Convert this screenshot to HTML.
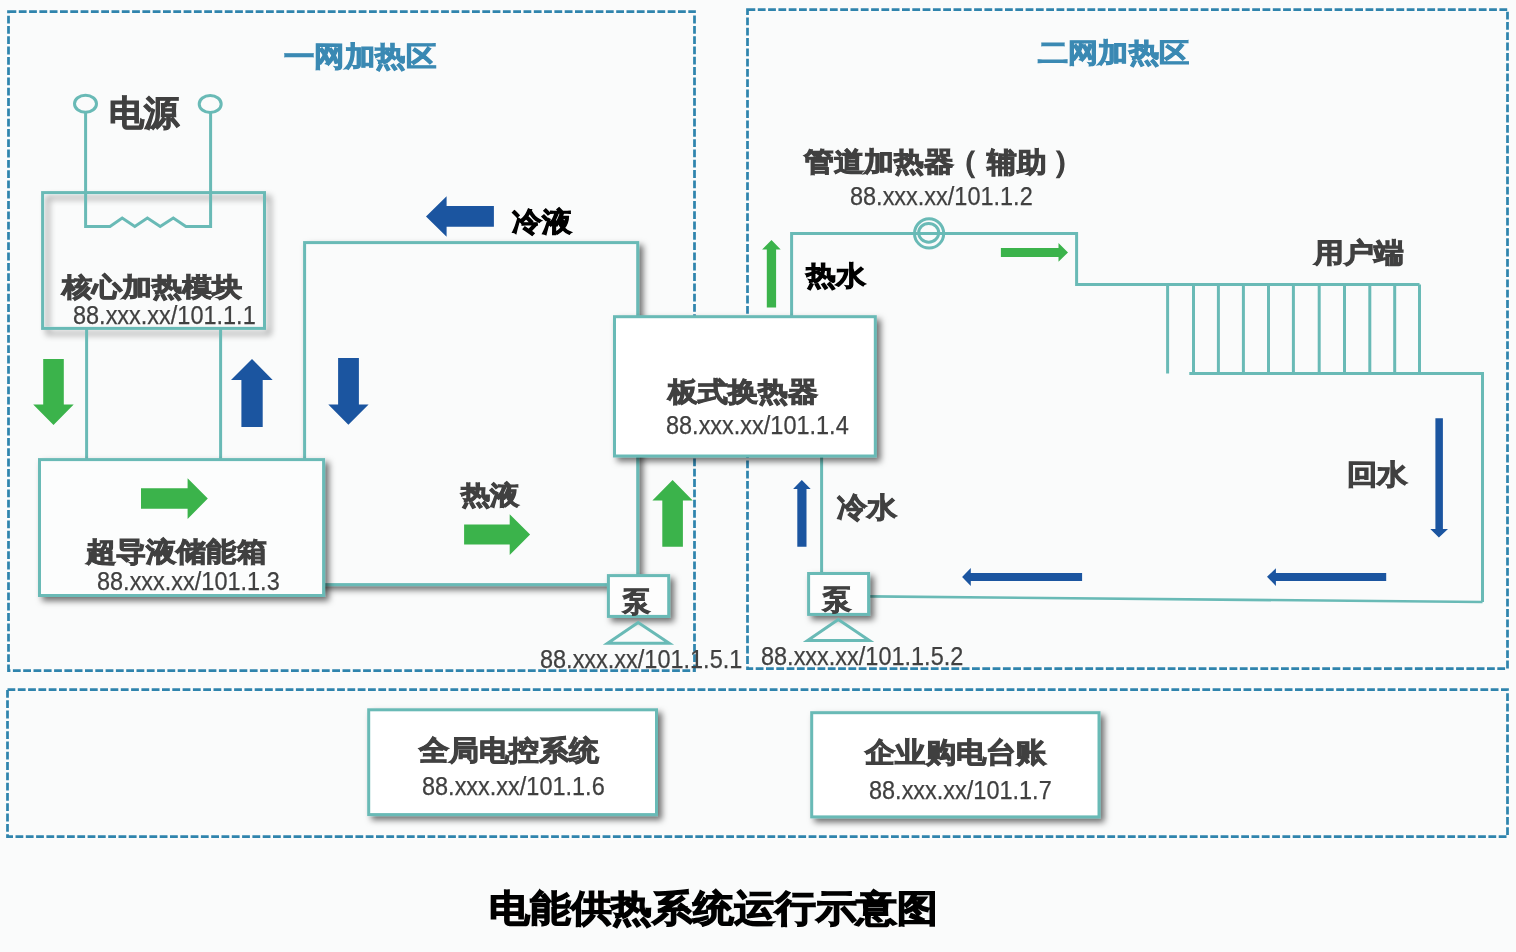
<!DOCTYPE html><html><head><meta charset="utf-8"><title>电能供热系统运行示意图</title><style>
html,body{margin:0;padding:0;background:#fafbfb;}
#c{position:relative;width:1516px;height:952px;overflow:hidden;background:#fafbfb;}
svg{position:absolute;left:0;top:0;}
.t{position:absolute;white-space:nowrap;line-height:1;font-family:"Liberation Sans",sans-serif;transform-origin:0 0;}
.b{font-weight:bold;}
</style></head><body><div id="c">
<svg width="1516" height="952" viewBox="0 0 1516 952"><defs><filter id="sh" x="-50%" y="-50%" width="200%" height="200%">
<feGaussianBlur in="SourceAlpha" stdDeviation="3.3"/>
<feOffset dx="4" dy="4" result="b"/>
<feFlood flood-color="#000" flood-opacity="0.55"/>
<feComposite in2="b" operator="in"/>
<feMerge><feMergeNode/><feMergeNode in="SourceGraphic"/></feMerge>
</filter><filter id="sh2" x="-50%" y="-50%" width="200%" height="200%">
<feGaussianBlur in="SourceAlpha" stdDeviation="3.2"/>
<feOffset dx="5" dy="5" result="b"/>
<feFlood flood-color="#000" flood-opacity="0.42"/>
<feComposite in2="b" operator="in"/>
<feMerge><feMergeNode/><feMergeNode in="SourceGraphic"/></feMerge>
</filter></defs><rect x="8.5" y="11.5" width="686" height="659" fill="none" stroke="#2f84ad" stroke-width="2.75" stroke-dasharray="7.8 2.5"/><rect x="747.5" y="9.5" width="760" height="659" fill="none" stroke="#2f84ad" stroke-width="2.75" stroke-dasharray="7.8 2.5"/><rect x="7.5" y="689.5" width="1500" height="147" fill="none" stroke="#2f84ad" stroke-width="2.75" stroke-dasharray="7.8 2.5"/><rect x="42.6" y="192.6" width="221.9" height="135.8" fill="none" stroke="#69bab6" stroke-width="3" filter="url(#sh2)"/><g fill="none" stroke="#69bab6" stroke-width="3"><ellipse cx="85.5" cy="103.8" rx="11" ry="8.5"/><ellipse cx="210.2" cy="104" rx="11" ry="8.5"/><polyline points="85.6,112.3 85.6,226.4 110,226.4 122.2,218 134.8,226.4 147.4,218 160.2,226.4 173.3,218 185.9,226.4 210.6,226.4 210.6,112.5"/></g><g stroke="#69bab6" stroke-width="3"><line x1="86.6" y1="328.4" x2="86.6" y2="459.6"/><line x1="220.6" y1="328.4" x2="220.6" y2="459.6"/></g><rect x="304.6" y="242.6" width="333.1" height="342" fill="#fafbfb" stroke="#69bab6" stroke-width="3" filter="url(#sh)"/><rect x="39.5" y="459.6" width="284.1" height="135.9" fill="#fcfdfd" stroke="#69bab6" stroke-width="3" filter="url(#sh)"/><g fill="none" stroke="#69bab6" stroke-width="3"><polyline points="791.6,316.7 791.6,233.6 1076.6,233.6 1076.6,284.5 1419.5,284.5"/><line x1="1167.6" y1="284.5" x2="1167.6" y2="373.5"/><line x1="1193.5" y1="284.5" x2="1193.5" y2="373.5"/><line x1="1218.4" y1="284.5" x2="1218.4" y2="373.5"/><line x1="1243.4" y1="284.5" x2="1243.4" y2="373.5"/><line x1="1268.5" y1="284.5" x2="1268.5" y2="373.5"/><line x1="1293.4" y1="284.5" x2="1293.4" y2="373.5"/><line x1="1319.2" y1="284.5" x2="1319.2" y2="373.5"/><line x1="1344.5" y1="284.5" x2="1344.5" y2="373.5"/><line x1="1369.8" y1="284.5" x2="1369.8" y2="373.5"/><line x1="1394.7" y1="284.5" x2="1394.7" y2="373.5"/><line x1="1419.5" y1="284.5" x2="1419.5" y2="373.5"/><polyline points="1189.3,373.5 1482.5,373.5 1482.5,602"/><line x1="1482.5" y1="602" x2="868.6" y2="596.4" stroke-width="2.6"/><line x1="821.6" y1="456" x2="821.6" y2="573.5"/><circle cx="929.1" cy="233.4" r="14.6"/><ellipse cx="928.7" cy="232.8" rx="10" ry="9.4"/></g><rect x="614.5" y="316.7" width="260.8" height="139.3" fill="#ffffff" stroke="#69bab6" stroke-width="3" filter="url(#sh)"/><rect x="608.4" y="575.6" width="60.3" height="40.8" fill="#fdfdfd" stroke="#69bab6" stroke-width="3" filter="url(#sh)"/><rect x="808.6" y="573.5" width="60" height="40.9" fill="#fdfdfd" stroke="#69bab6" stroke-width="3" filter="url(#sh)"/><polygon points="638.2,622.6 607.6,643.3 669.2,643.3" fill="none" stroke="#69bab6" stroke-width="3"/><polygon points="838.3,619.6 807.6,640.6 869.4,640.6" fill="none" stroke="#69bab6" stroke-width="3"/><rect x="368.7" y="709.8" width="287.8" height="104.8" fill="#ffffff" stroke="#69bab6" stroke-width="3" filter="url(#sh)"/><rect x="811.7" y="712.7" width="287.3" height="104.2" fill="#ffffff" stroke="#69bab6" stroke-width="3" filter="url(#sh)"/><polygon points="43.2,359.0 63.8,359.0 63.8,404.4 73.7,404.4 53.5,425.0 33.2,404.4 43.2,404.4" fill="#3bb34b"/><polygon points="241.4,427.0 262.7,427.0 262.7,380.0 272.7,380.0 252.0,359.0 231.0,380.0 241.4,380.0" fill="#1b55a0"/><polygon points="338.1,358.1 358.9,358.1 358.9,404.4 368.6,404.4 348.4,424.8 328.3,404.4 338.1,404.4" fill="#1b55a0"/><polygon points="141.0,488.2 187.6,488.2 187.6,478.3 207.8,498.6 187.6,518.9 187.6,508.7 141.0,508.7" fill="#3bb34b"/><polygon points="493.9,206.1 446.6,206.1 446.6,196.3 426.0,216.5 446.6,236.7 446.6,226.8 493.9,226.8" fill="#1b55a0"/><polygon points="464.1,524.5 509.7,524.5 509.7,514.2 530.1,534.5 509.7,554.9 509.7,544.6 464.1,544.6" fill="#3bb34b"/><polygon points="662.3,546.8 682.9,546.8 682.9,500.5 692.7,500.5 672.6,479.9 652.4,500.5 662.3,500.5" fill="#3bb34b"/><polygon points="766.8,307.6 776.1,307.6 776.1,249.4 780.7,249.4 771.5,240.1 762.1,249.4 766.8,249.4" fill="#3bb34b"/><polygon points="1000.9,247.9 1058.5,247.9 1058.5,243.1 1068.0,252.4 1058.5,261.8 1058.5,257.0 1000.9,257.0" fill="#3bb34b"/><polygon points="1435.4,418.2 1442.9,418.2 1442.9,529.0 1448.0,529.0 1438.9,537.5 1430.3,529.0 1435.4,529.0" fill="#1b55a0"/><polygon points="1082.1,573.0 970.8,573.0 970.8,567.9 962.1,577.0 970.8,585.9 970.8,580.9 1082.1,580.9" fill="#1b55a0"/><polygon points="1386.2,573.0 1275.9,573.0 1275.9,568.2 1267.0,576.8 1275.9,585.9 1275.9,581.0 1386.2,581.0" fill="#1b55a0"/><polygon points="797.3,546.7 806.5,546.7 806.5,488.9 810.7,488.9 801.8,480.0 793.1,488.9 797.3,488.9" fill="#1b55a0"/></svg>
<div class="t b" style="left:284.0px;top:42.0px;font-size:28.2px;color:#3a89b3;transform:scaleX(1.0868);-webkit-text-stroke:1.00px #3a89b3;">一网加热区</div>
<div class="t b" style="left:1038.0px;top:39.0px;font-size:27.2px;color:#3a89b3;transform:scaleX(1.1182);-webkit-text-stroke:1.00px #3a89b3;">二网加热区</div>
<div class="t b" style="left:109.0px;top:96.0px;font-size:34.9px;color:#404040;transform:scaleX(1.0038);-webkit-text-stroke:1.00px #404040;">电源</div>
<div class="t b" style="left:62.0px;top:274.0px;font-size:26.3px;color:#404040;transform:scaleX(1.1541);-webkit-text-stroke:1.00px #404040;">核心加热模块</div>
<div class="t" style="left:73.0px;top:303.0px;font-size:25.8px;color:#404040;transform:scaleX(0.9100);-webkit-text-stroke:0.25px #404040;">88.xxx.xx/101.1.1</div>
<div class="t b" style="left:86.0px;top:538.0px;font-size:27.2px;color:#404040;transform:scaleX(1.1157);-webkit-text-stroke:1.00px #404040;">超导液储能箱</div>
<div class="t" style="left:97.0px;top:569.4px;font-size:25.8px;color:#404040;transform:scaleX(0.9100);-webkit-text-stroke:0.25px #404040;">88.xxx.xx/101.1.3</div>
<div class="t b" style="left:511.5px;top:208.0px;font-size:27.1px;color:#000000;transform:scaleX(1.1059);-webkit-text-stroke:1.00px #000000;">冷液</div>
<div class="t b" style="left:461.0px;top:482.0px;font-size:26.2px;color:#404040;transform:scaleX(1.1247);-webkit-text-stroke:1.00px #404040;">热液</div>
<div class="t b" style="left:623.0px;top:588.0px;font-size:28.0px;color:#404040;transform:scaleX(0.9710);-webkit-text-stroke:1.00px #404040;">泵</div>
<div class="t" style="left:539.6px;top:647.3px;font-size:25.8px;color:#404040;transform:scaleX(0.9100);-webkit-text-stroke:0.25px #404040;">88.xxx.xx/101.1.5.1</div>
<div class="t b" style="left:668.0px;top:378.0px;font-size:27.2px;color:#404040;transform:scaleX(1.1108);-webkit-text-stroke:1.00px #404040;">板式换热器</div>
<div class="t" style="left:665.6px;top:412.7px;font-size:25.8px;color:#404040;transform:scaleX(0.9100);-webkit-text-stroke:0.25px #404040;">88.xxx.xx/101.1.4</div>
<div class="t b" style="left:804.0px;top:147.7px;font-size:27.2px;color:#404040;transform:scaleX(1.1093);-webkit-text-stroke:1.00px #404040;">管道加热器</div>
<div class="t b" style="left:948.3px;top:146.7px;font-size:30.0px;color:#404040;transform:scaleX(1.0001);-webkit-text-stroke:1.00px #404040;">（</div>
<div class="t b" style="left:987.2px;top:147.8px;font-size:28.3px;color:#404040;transform:scaleX(1.0583);-webkit-text-stroke:1.00px #404040;">辅助</div>
<div class="t b" style="left:1053.2px;top:146.7px;font-size:30.0px;color:#404040;transform:scaleX(1.0001);-webkit-text-stroke:1.00px #404040;">）</div>
<div class="t" style="left:849.8px;top:183.9px;font-size:25.8px;color:#404040;transform:scaleX(0.9100);-webkit-text-stroke:0.25px #404040;">88.xxx.xx/101.1.2</div>
<div class="t b" style="left:806.0px;top:262.0px;font-size:27.2px;color:#000000;transform:scaleX(1.1034);-webkit-text-stroke:1.00px #000000;">热水</div>
<div class="t b" style="left:1314.0px;top:239.0px;font-size:27.1px;color:#404040;transform:scaleX(1.1060);-webkit-text-stroke:1.00px #404040;">用户端</div>
<div class="t b" style="left:1347.0px;top:461.0px;font-size:28.1px;color:#404040;transform:scaleX(1.0874);-webkit-text-stroke:1.00px #404040;">回水</div>
<div class="t b" style="left:837.0px;top:494.0px;font-size:28.1px;color:#404040;transform:scaleX(1.0690);-webkit-text-stroke:1.00px #404040;">冷水</div>
<div class="t b" style="left:822.5px;top:586.0px;font-size:28.0px;color:#404040;transform:scaleX(1.0048);-webkit-text-stroke:1.00px #404040;">泵</div>
<div class="t" style="left:761.0px;top:644.0px;font-size:25.8px;color:#404040;transform:scaleX(0.9100);-webkit-text-stroke:0.25px #404040;">88.xxx.xx/101.1.5.2</div>
<div class="t b" style="left:419.0px;top:737.0px;font-size:28.1px;color:#404040;transform:scaleX(1.0690);-webkit-text-stroke:1.00px #404040;">全局电控系统</div>
<div class="t" style="left:422.0px;top:774.3px;font-size:25.8px;color:#404040;transform:scaleX(0.9100);-webkit-text-stroke:0.25px #404040;">88.xxx.xx/101.1.6</div>
<div class="t b" style="left:865.0px;top:739.0px;font-size:28.1px;color:#404040;transform:scaleX(1.0807);-webkit-text-stroke:1.00px #404040;">企业购电台账</div>
<div class="t" style="left:869.0px;top:777.5px;font-size:25.8px;color:#404040;transform:scaleX(0.9100);-webkit-text-stroke:0.25px #404040;">88.xxx.xx/101.1.7</div>
<div class="t b" style="left:489.0px;top:891.0px;font-size:36.6px;color:#000000;transform:scaleX(1.1036);-webkit-text-stroke:1.30px #000000;">电能供热系统运行示意图</div>
</div></body></html>
